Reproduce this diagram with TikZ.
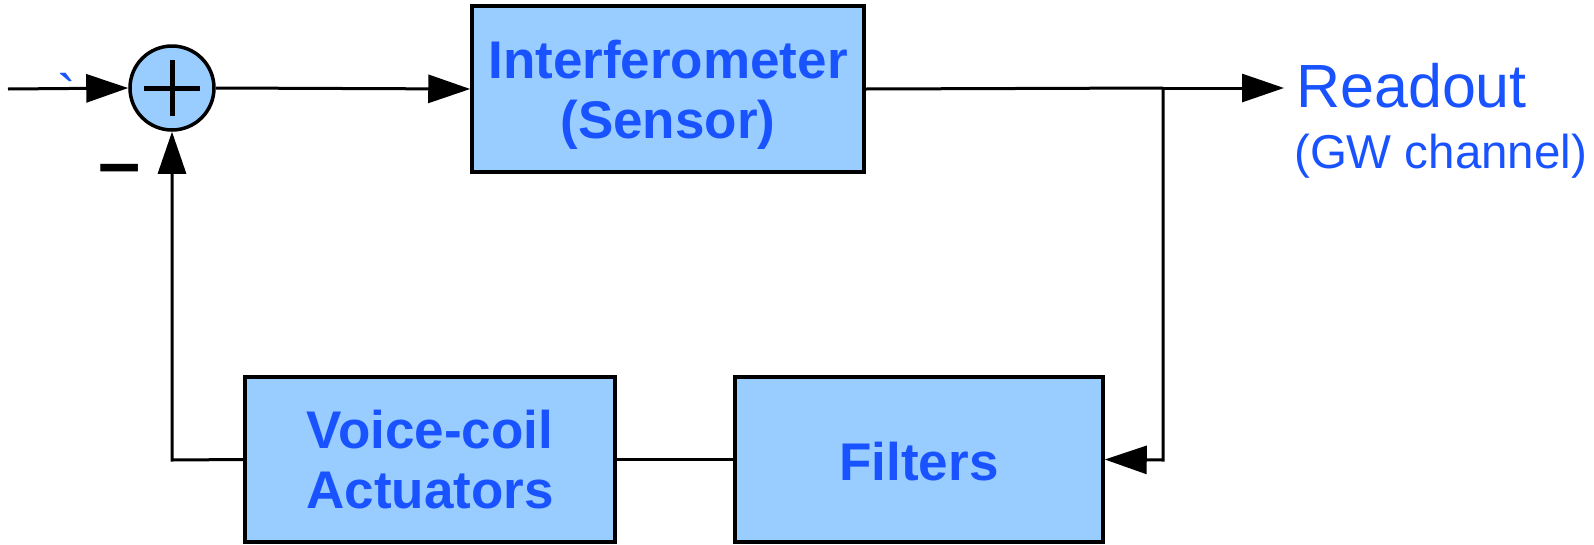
\documentclass[tikz,border=0pt]{standalone}
\usepackage{fontspec}
\setmainfont{Liberation Sans}
\newfontfamily\gravefont{Liberation Sans}[Ligatures=TeXOff]
\usetikzlibrary{arrows.meta}
\definecolor{boxfill}{RGB}{153,204,255}
\definecolor{txtblue}{RGB}{25,82,255}
\tikzset{
  blockbox/.style={draw=black, line width=3.5pt, fill=boxfill, rectangle, inner sep=0pt,
    text=txtblue, align=center, font=\fontsize{53}{60}\selectfont\bfseries},
  conn/.style={line width=3pt, draw=black},
  arr/.style={conn, -{Triangle[length=42pt,width=28pt]}},
  sumnode/.style={circle, draw=black, line width=3.5pt, fill=boxfill, minimum size=84pt, inner sep=0pt}
}
\begin{document}
\begin{tikzpicture}[x=1pt,y=-1pt]
\useasboundingbox (0,0) rectangle (1594,544);
% nodes
\node[sumnode] (sum) at (172,88) {};
\draw[line width=5pt] ([xshift=-28pt]sum.center) -- ([xshift=28pt]sum.center);
\draw[line width=5pt] ([yshift=28pt]sum.center) -- ([yshift=-28pt]sum.center);
\node[blockbox, minimum width=392pt, minimum height=166pt] (ifo) at (668,89) {\rule{0pt}{50pt}Interferometer\\(Sensor)};
\node[blockbox, minimum width=370pt, minimum height=165pt] (vc) at (430,459.5) {Voice-coil\\Actuators};
\node[blockbox, minimum width=368pt, minimum height=165pt] (flt) at (919,459.5) {\rule{0pt}{42pt}Filters};
\node[anchor=base west, inner sep=0pt, text=txtblue, font=\fontsize{61}{61}\selectfont] (ro) at (1296,107) {Readout};
\node[anchor=base west, inner sep=0pt, text=txtblue, font=\fontsize{47.5}{47.5}\selectfont] (gw) at (1294,168) {(GW channel)};
\node[anchor=base, inner sep=0pt, text=txtblue, font=\fontsize{56}{56}\selectfont\gravefont] (tick) at (67,114) {\symbol{96}};
\node[anchor=base, inner sep=0pt, font=\fontsize{76}{76}\selectfont\bfseries] (minus) at (120,188) {–};
% coordinates
\coordinate (in) at (8,89);
\coordinate (split) at (1163,88);
\coordinate (rotip) at (1284,88);
\coordinate (fbturn) at (1163,460);
\coordinate (vcturn) at (172,460);
% connectors
\draw[arr] (in) -- (sum.west);
\draw[arr] (sum.east) -- (ifo.west);
\draw[conn] (ifo.east) -- (split);
\draw[arr] (split) -- (rotip);
\draw[arr] (split) -- (fbturn) -- (flt.east);
\draw[conn] (flt.west) -- (vc.east);
\draw[arr] (vc.west) -- (vcturn) -- (sum.south);
\end{tikzpicture}
\end{document}
